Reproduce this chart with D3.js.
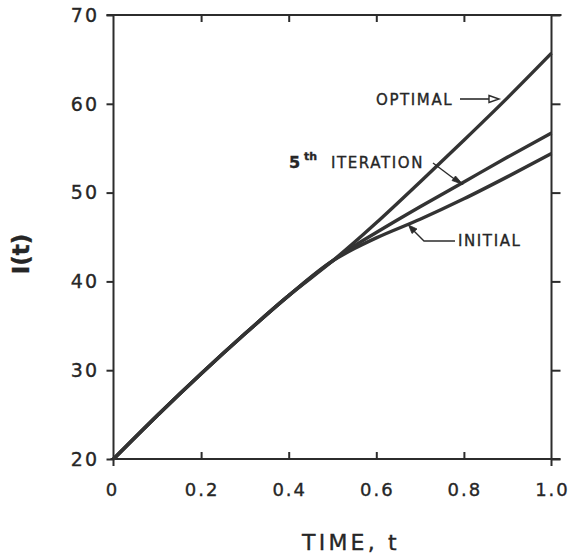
<!DOCTYPE html>
<html>
<head>
<meta charset="utf-8">
<script src="https://cdn.jsdelivr.net/npm/d3@7/dist/d3.min.js"></script>
<style>
  html, body { margin: 0; padding: 0; background: #fff; }
  svg { display: block; }
  text { fill: #262626; stroke: #262626; stroke-width: 0.35px; font-family: "DejaVu Sans", sans-serif; }
</style>
</head>
<body>
<svg id="chart" width="571" height="556"></svg>
<script>
// Shared trajectory before the curves split
const tCommon = [0, 0.1, 0.2, 0.3, 0.4, 0.5];
const iCommon = [20.0, 24.9, 29.6, 34.1, 38.4, 42.3];

// Branches after the split
const tBranch = [0.5, 0.55, 0.6, 0.7, 0.8, 0.9, 1.0];
const iOptimal = [42.3, 44.4, 46.6, 51.2, 55.9, 60.7, 65.7];
const iFifth   = [42.3, 44.0, 45.5, 48.4, 51.2, 54.0, 56.7];
const iInitial = [42.3, 43.7, 44.9, 47.0, 49.3, 51.8, 54.4];

const xTicks = [0, 0.2, 0.4, 0.6, 0.8, 1.0];
const xTickLabels = ["0", "0.2", "0.4", "0.6", "0.8", "1.0"];
const yTicks = [20, 30, 40, 50, 60, 70];
const yTickLabels = ["20", "30", "40", "50", "60", "70"];

const svg = d3.select("#chart");
const ink = "#2c2c2c";

const x = d3.scaleLinear().domain([0, 1]).range([113.5, 551.5]);
const y = d3.scaleLinear().domain([20, 70]).range([459, 15]);

// Frame: left/right ticks point outward, top/bottom ticks point inward
const axLeft = svg.append("g").attr("transform", `translate(${x(0)},0)`)
  .call(d3.axisLeft(y).tickValues(yTicks).tickSize(7).tickSizeOuter(0).tickFormat(() => ""));
const axRight = svg.append("g").attr("transform", `translate(${x(1)},0)`)
  .call(d3.axisRight(y).tickValues(yTicks).tickSize(9).tickSizeOuter(0).tickFormat(() => ""));
const axBottom = svg.append("g").attr("transform", `translate(0,${y(20)})`)
  .call(d3.axisBottom(x).tickValues(xTicks).tickSize(-7).tickSizeOuter(0).tickFormat(() => ""));
const axTop = svg.append("g").attr("transform", `translate(0,${y(70)})`)
  .call(d3.axisTop(x).tickValues(xTicks).tickSize(-7).tickSizeOuter(0).tickFormat(() => ""));

[axLeft, axRight, axBottom, axTop].forEach(g => {
  g.selectAll("path.domain").attr("stroke", ink).attr("stroke-width", 2);
  g.selectAll(".tick line").attr("stroke", ink).attr("stroke-width", 2);
});
// edges run slightly past the corners
axBottom.select("path.domain").attr("d", `M${x(0) - 3},0H${x(1) + 9}`);
axTop.select("path.domain").attr("d", `M${x(0) - 7},0H${x(1) + 10}`);
axLeft.select("path.domain").attr("d", `M0,${y(70)}V${y(20) + 7}`);
axRight.select("path.domain").attr("d", `M0,${y(70)}V${y(20) + 7}`);
// no inward ticks at the corners
axBottom.selectAll(".tick").filter(d => d === 0 || d === 1).select("line").attr("y2", 0);
axTop.selectAll(".tick").filter(d => d === 0 || d === 1).select("line").attr("y2", 0);

// Tick labels
svg.append("g").selectAll("text").data(xTicks).join("text")
  .attr("x", d => x(d) + (d === 0 ? -1 : 1))
  .attr("y", 496)
  .attr("text-anchor", "middle")
  .attr("font-size", 18)
  .attr("letter-spacing", 2)
  .text((d, i) => xTickLabels[i]);

svg.append("g").selectAll("text").data(yTicks).join("text")
  .attr("x", 99)
  .attr("y", d => y(d))
  .attr("dy", "0.36em")
  .attr("text-anchor", "end")
  .attr("font-size", 19)
  .attr("letter-spacing", 2)
  .text((d, i) => yTickLabels[i]);

// Axis titles
svg.append("text")
  .attr("x", 351).attr("y", 550)
  .attr("text-anchor", "middle")
  .attr("font-size", 22)
  .attr("letter-spacing", 3.2)
  .attr("stroke-width", 0.6)
  .text("TIME,  t");

svg.append("text")
  .attr("transform", "translate(29,254) rotate(-90)")
  .attr("text-anchor", "middle")
  .attr("font-family", "DejaVu Sans Mono, monospace")
  .attr("font-size", 23)
  .attr("font-weight", "bold")
  .attr("stroke-width", 0)
  .text("I(t)");

// Curves
const line = d3.line().x(d => x(d[0])).y(d => y(d[1])).curve(d3.curveMonotoneX);
const trunk = d3.zip(tCommon, iCommon);
const series = [iInitial, iFifth, iOptimal].map(vals =>
  trunk.concat(d3.zip(tBranch, vals).slice(1)));

svg.append("g").selectAll("path").data(series).join("path")
  .attr("d", line)
  .attr("fill", "none")
  .attr("stroke", "#333")
  .attr("stroke-width", 3.4)
  .attr("stroke-linejoin", "round");

// Annotations
const ann = svg.append("g");
const labelSize = 15, labelSpacing = 1.6;

ann.append("text").attr("x", 376).attr("y", 105)
  .attr("font-size", labelSize).attr("letter-spacing", labelSpacing)
  .text("OPTIMAL");
ann.append("path").attr("d", "M460,99H489").attr("stroke", ink).attr("stroke-width", 1.6).attr("fill", "none");
ann.append("path").attr("d", "M489,95.5L499,99L489,102.5Z").attr("stroke", ink).attr("stroke-width", 1.4).attr("fill", "#fff");

ann.append("text").attr("x", 289).attr("y", 168)
  .attr("font-size", 16).attr("font-weight", "bold").attr("stroke-width", 0).text("5");
ann.append("text").attr("x", 304).attr("y", 160)
  .attr("font-size", 11).attr("font-weight", "bold").attr("stroke-width", 0).text("th");
ann.append("text").attr("x", 331).attr("y", 168)
  .attr("font-size", labelSize).attr("letter-spacing", labelSpacing)
  .text("ITERATION");
ann.append("path").attr("d", "M433,163L457,181").attr("stroke", ink).attr("stroke-width", 1.4).attr("fill", "none");
ann.append("path").attr("d", "M463,184.5L452,180.5L455.5,176Z").attr("fill", ink).attr("stroke", ink).attr("stroke-width", 0.8);

ann.append("text").attr("x", 458).attr("y", 246)
  .attr("font-size", labelSize).attr("letter-spacing", labelSpacing)
  .text("INITIAL");
ann.append("path").attr("d", "M455,241H424L413,230").attr("stroke", ink).attr("stroke-width", 1.4).attr("fill", "none");
ann.append("path").attr("d", "M408.5,225L417,229L412,233.5Z").attr("fill", ink).attr("stroke", ink).attr("stroke-width", 0.8);
</script>
</body>
</html>
